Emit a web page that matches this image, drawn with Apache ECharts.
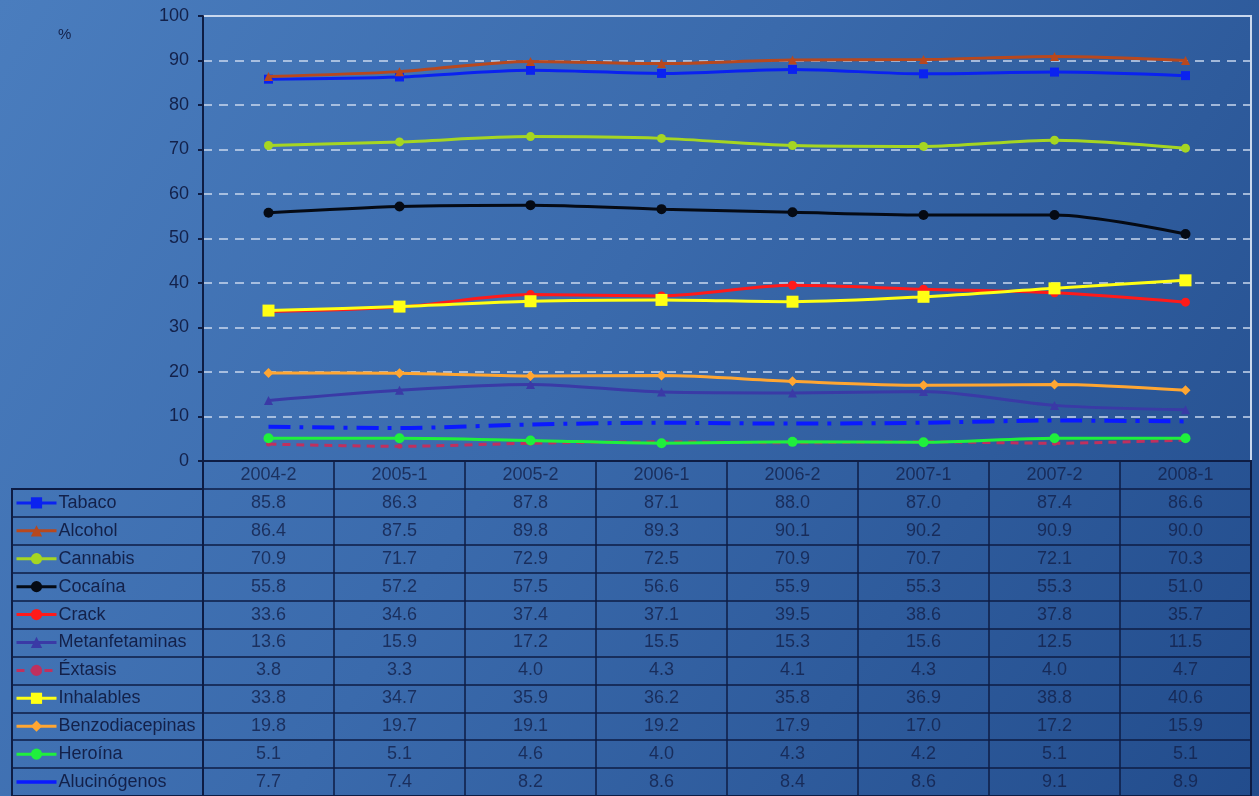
<!DOCTYPE html>
<html>
<head>
<meta charset="utf-8">
<script src="https://cdn.jsdelivr.net/npm/echarts@6/dist/echarts.min.js"></script>
<style>
html,body{margin:0;padding:0;width:1259px;height:796px;overflow:hidden;}
#c{width:1259px;height:796px;}
</style>
</head>
<body>
<div id="c"></div>
<script>
// ---- data ----
var categories = ['2004-2','2005-1','2005-2','2006-1','2006-2','2007-1','2007-2','2008-1'];
var seriesNames = ['Tabaco','Alcohol','Cannabis','Cocaína','Crack','Metanfetaminas','Éxtasis','Inhalables','Benzodiacepinas','Heroína','Alucinógenos'];
var tabaco         = [85.8, 86.3, 87.8, 87.1, 88.0, 87.0, 87.4, 86.6];
var alcohol        = [86.4, 87.5, 89.8, 89.3, 90.1, 90.2, 90.9, 90.0];
var cannabis       = [70.9, 71.7, 72.9, 72.5, 70.9, 70.7, 72.1, 70.3];
var cocaina        = [55.8, 57.2, 57.5, 56.6, 55.9, 55.3, 55.3, 51.0];
var crack          = [33.6, 34.6, 37.4, 37.1, 39.5, 38.6, 37.8, 35.7];
var metanfetaminas = [13.6, 15.9, 17.2, 15.5, 15.3, 15.6, 12.5, 11.5];
var extasis        = [3.8, 3.3, 4.0, 4.3, 4.1, 4.3, 4.0, 4.7];
var inhalables     = [33.8, 34.7, 35.9, 36.2, 35.8, 36.9, 38.8, 40.6];
var benzodiacepinas= [19.8, 19.7, 19.1, 19.2, 17.9, 17.0, 17.2, 15.9];
var heroina        = [5.1, 5.1, 4.6, 4.0, 4.3, 4.2, 5.1, 5.1];
var alucinogenos   = [7.7, 7.4, 8.2, 8.6, 8.4, 8.6, 9.1, 8.9];
var yTicks = {min: 0, max: 100, interval: 10};

var values = [tabaco, alcohol, cannabis, cocaina, crack, metanfetaminas, extasis, inhalables, benzodiacepinas, heroina, alucinogenos];

// ---- styles ----
var styles = [
  {color:'#0a22f0', symbol:'rect', size:9, width:3},
  {color:'#b8481e', symbol:'triangle', size:9, width:3},
  {color:'#a6d622', symbol:'circle', size:9, width:3},
  {color:'#050a14', symbol:'circle', size:10, width:3},
  {color:'#ff1a1a', symbol:'circle', size:9, width:3},
  {color:'#3a3aa6', symbol:'triangle', size:9, width:3},
  {color:'#c0305e', symbol:'circle', size:5, width:3, type:[8,6]},
  {color:'#ffff14', symbol:'rect', size:12, width:3},
  {color:'#ffa632', symbol:'diamond', size:10, width:3},
  {color:'#1ff03c', symbol:'circle', size:10, width:3},
  {color:'#0a1aff', symbol:'none', size:0, width:4, type:[22,9,4,9]}
];

var W = 1259, H = 796;
var plotLeft = 203, plotRight = 8, plotTop = 16, tableTop = 461;
var nRows = seriesNames.length + 1;
var rowH = (H - tableTop) / nRows;
var dark = '#0e1d44';
var font = 'Liberation Sans, Arial, sans-serif';
var textColor = '#13214a';
var legendLine = 18;

var series = [];
seriesNames.forEach(function(n, i){
  var s = styles[i];
  series.push({
    name: n, type: 'line', xAxisIndex: 0, yAxisIndex: 0,
    data: values[i], smooth: 0.3,
    symbol: s.symbol, symbolSize: s.size, showSymbol: s.symbol !== 'none',
    lineStyle: {color: s.color, width: s.width, type: s.type || 'solid'},
    itemStyle: {color: s.color},
    z: 3 + i
  });
});

// table cells
var cellData = [];
categories.forEach(function(c, ci){
  cellData.push({value:[ci, 0], label:{formatter: c}});
  values.forEach(function(arr, ri){
    cellData.push({value:[ci, ri + 1], label:{formatter: arr[ci].toFixed(1)}});
  });
});
var rowCats = ['hdr'].concat(seriesNames);
series.push({
  name: 'tabla', type: 'scatter', xAxisIndex: 1, yAxisIndex: 1,
  data: cellData, symbolSize: 0, silent: true,
  label: {show: true, position: 'inside', color: textColor, fontSize: 18, fontFamily: font}
});

var legendData = seriesNames.map(function(n, i){
  if (styles[i].symbol === 'none') {
    return {name: n, icon: 'path://M0,0 L40,0 L40,3.5 L0,3.5 Z'};
  }
  return {name: n};
});

var option = {
  animation: false,
  backgroundColor: {
    type: 'linear', x: 0, y: 0, x2: 1, y2: 1,
    colorStops: [
      {offset: 0, color: '#4a7dbe'},
      {offset: 0.45, color: '#3a6aac'},
      {offset: 1, color: '#224c8c'}
    ]
  },
  title: {text: '%', left: 53, top: 22, textStyle: {fontSize: 15, fontWeight: 'normal', color: textColor, fontFamily: font}},
  legend: {
    data: legendData, orient: 'vertical', left: 15, top: tableTop + rowH + (rowH - legendLine) / 2,
    height: 340, padding: 0,
    itemWidth: 40, itemHeight: 14, itemGap: rowH - legendLine, selectedMode: false,
    lineStyle: {width: 3},
    textStyle: {fontSize: 18, color: textColor, fontFamily: font, lineHeight: legendLine, padding: [0,0,0,-3]}
  },
  grid: [
    {left: plotLeft, right: plotRight, top: plotTop, bottom: H - tableTop, show: true, borderColor: '#c9d8ee', borderWidth: 2, backgroundColor: 'transparent'},
    {left: plotLeft, right: plotRight, top: tableTop, bottom: 0, show: true, borderColor: dark, borderWidth: 2, backgroundColor: 'transparent'},
    {left: 12, width: plotLeft - 12, top: tableTop + rowH, bottom: 0, show: true, borderColor: dark, borderWidth: 2, backgroundColor: 'transparent'}
  ],
  xAxis: [
    {type: 'category', gridIndex: 0, data: categories, boundaryGap: true,
     axisLine: {show: true, lineStyle: {color: dark, width: 2}}, axisTick: {show: false}, axisLabel: {show: false}, splitLine: {show: false}},
    {type: 'category', gridIndex: 1, data: categories, boundaryGap: true, position: 'top',
     axisLine: {show: true, lineStyle: {color: dark, width: 2}}, axisTick: {show: false}, axisLabel: {show: false},
     splitLine: {show: true, interval: 0, lineStyle: {color: dark, width: 1.5}}},
    {type: 'value', gridIndex: 2, show: false, min: 0, max: 1}
  ],
  yAxis: [
    {type: 'value', gridIndex: 0, min: yTicks.min, max: yTicks.max, interval: yTicks.interval,
     axisLine: {show: true, lineStyle: {color: dark, width: 2}},
     axisTick: {show: true, length: 5, lineStyle: {color: dark, width: 2}},
     axisLabel: {fontSize: 18, color: textColor, fontFamily: font, margin: 14},
     splitLine: {show: true, lineStyle: {color: '#c9d8ee', width: 1.5, type: [9, 7]}}},
    {type: 'category', gridIndex: 1, data: rowCats, inverse: true, boundaryGap: true,
     axisLine: {show: false}, axisTick: {show: false}, axisLabel: {show: false},
     splitLine: {show: true, interval: 0, lineStyle: {color: dark, width: 1.5}}},
    {type: 'category', gridIndex: 2, data: seriesNames, inverse: true, boundaryGap: true,
     axisLine: {show: true, lineStyle: {color: dark, width: 2}}, axisTick: {show: false}, axisLabel: {show: false},
     splitLine: {show: true, interval: 0, lineStyle: {color: dark, width: 1.5}}}
  ],
  series: series
};

var chart = echarts.init(document.getElementById('c'), null, {renderer: 'canvas'});
chart.setOption(option);
</script>
</body>
</html>
